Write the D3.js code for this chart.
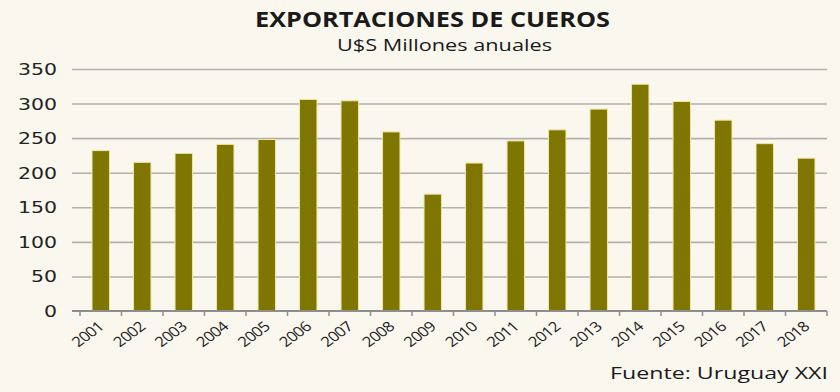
<!DOCTYPE html>
<html>
<head>
<meta charset="utf-8">
<script src="https://cdn.jsdelivr.net/npm/d3@7"></script>
<style>
	body { margin: 0; background: #faf7ef; }
	svg { display: block; }
	.grid line { stroke: #b3b1ab; stroke-width: 1.6; }
	.grid path { display: none; }
</style>
</head>
<body>
<script>
const years = ["2001","2002","2003","2004","2005","2006","2007","2008","2009",
	"2010","2011","2012","2013","2014","2015","2016","2017","2018"];
const exports = [232, 215, 228, 241, 248, 306, 304, 259, 169,
	214, 246, 262, 292, 328, 303, 276, 242, 221];
const yTicks = [0, 50, 100, 150, 200, 250, 300, 350];

const title = "EXPORTACIONES DE CUEROS";
const subtitle = "U$S Millones anuales";
const source = "Fuente: Uruguay XXI";

const width = 840,
	height = 392;

const svg = d3.select("body")
	.append("svg")
	.attr("width", width)
	.attr("height", height);

svg.append("rect")
	.attr("width", width)
	.attr("height", height)
	.attr("fill", "#faf7ef");

const x = d3.scaleBand()
	.domain(years)
	.range([80, 827])
	.paddingInner(0.58)
	.paddingOuter(0.29);

const y = d3.scaleLinear()
	.domain([0, 350])
	.range([311, 69]);

// gridlines
svg.append("g")
	.attr("class", "grid")
	.attr("transform", "translate(80,0)")
	.call(d3.axisLeft(y).tickValues(yTicks.slice(1)).tickSize(-747).tickFormat(""))
	.selectAll("line")
	.attr("x1", -8);

// y labels (the original is stretched sideways)
svg.append("g")
	.selectAll("text")
	.data(yTicks)
	.join("text")
	.attr("x", 57)
	.attr("y", d => y(d) + 6)
	.attr("text-anchor", "end")
	.attr("font-family", "DejaVu Sans")
	.attr("font-size", 16)
	.attr("fill", "#222")
	.attr("textLength", d => String(d).length * 13)
	.attr("lengthAdjust", "spacingAndGlyphs")
	.text(d => d);

// bars
svg.append("g")
	.selectAll("rect")
	.data(exports)
	.join("rect")
	.attr("x", (d, i) => x(years[i]))
	.attr("y", d => y(d))
	.attr("width", x.bandwidth())
	.attr("height", d => y(0) - y(d))
	.attr("fill", "#7e7600")
	.attr("stroke", "#efe6a6")
	.attr("stroke-width", 1);

// x axis line + ticks at category borders
const step = x.step();
const xAxis = svg.append("g");
xAxis.append("line")
	.attr("x1", 72).attr("x2", 827)
	.attr("y1", y(0)).attr("y2", y(0))
	.attr("stroke", "#8e8e8e")
	.attr("stroke-width", 2);
xAxis.selectAll(".tk")
	.data(d3.range(years.length + 1))
	.join("line")
	.attr("class", "tk")
	.attr("x1", i => 80 + i * step)
	.attr("x2", i => 80 + i * step)
	.attr("y1", y(0))
	.attr("y2", y(0) + 5)
	.attr("stroke", "#8e8e8e")
	.attr("stroke-width", 1.5);

// rotated year labels
svg.append("g")
	.selectAll("text")
	.data(years)
	.join("text")
	.attr("transform", d => "translate(" + (x(d) + x.bandwidth() / 2 + 4) + "," + (y(0) + 17) + ") scale(1.2,1) rotate(-42)")
	.attr("text-anchor", "end")
	.attr("font-family", "Open Sans")
	.attr("font-size", 14)
	.attr("letter-spacing", -0.6)
	.attr("fill", "#222")
	.text(d => d);

// titles
svg.append("text")
	.attr("x", 255)
	.attr("y", 27)
	.attr("font-family", "Open Sans")
	.attr("font-weight", "bold")
	.attr("font-size", 22)
	.attr("fill", "#1a1a1a")
	.attr("textLength", 355)
	.attr("lengthAdjust", "spacingAndGlyphs")
	.text(title);

svg.append("text")
	.attr("x", 337)
	.attr("y", 51)
	.attr("font-family", "Open Sans")
	.attr("font-size", 17)
	.attr("fill", "#1a1a1a")
	.attr("textLength", 215)
	.attr("lengthAdjust", "spacingAndGlyphs")
	.text(subtitle);

svg.append("text")
	.attr("x", 610)
	.attr("y", 379)
	.attr("font-family", "Open Sans")
	.attr("font-size", 17)
	.attr("fill", "#1a1a1a")
	.attr("textLength", 218)
	.attr("lengthAdjust", "spacingAndGlyphs")
	.text(source);
</script>
</body>
</html>
